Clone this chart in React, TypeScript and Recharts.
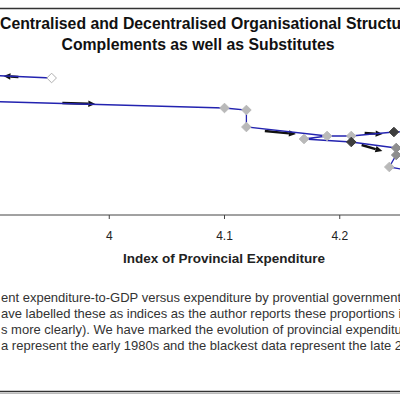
import { ReferenceLine, Scatter, ScatterChart, XAxis, YAxis } from "recharts"

// x: index of provincial expenditure, y: index of central expenditure
const xTicks = [3.9, 4, 4.1, 4.2]

// connecting lines (drawn in data order; some run off the visible crop)
const pathA_x = [3.95, 3.85]
const pathA_y = [3.9425, 3.955]
const pathB_x = [3.85, 4.1, 4.119, 4.119, 4.189, 4.21, 4.247, 4.3]
const pathB_y = [3.8875, 3.8675, 3.8625, 3.82, 3.7975, 3.7975, 3.8075, 3.81]
const pathC_x = [4.189, 4.169, 4.21, 4.249, 4.3]
const pathC_y = [3.7975, 3.79, 3.7825, 3.7675, 3.765]
const pathD_x = [4.3, 4.249, 4.243, 4.3]
const pathD_y = [3.755, 3.75, 3.72, 3.69]

// observations by era (lighter = early 1980s, darker = late 2000s)
const startX = [3.95]
const startY = [3.9425]
const earlyX = [4.1, 4.119, 4.119, 4.169, 4.189, 4.21, 4.243]
const earlyY = [3.8675, 3.8625, 3.82, 3.79, 3.7975, 3.7975, 3.72]
const middleX = [4.249, 4.249]
const middleY = [3.7675, 3.75]
const lateX = [4.21, 4.247]
const lateY = [3.7825, 3.8075]

// direction arrows: [x1, y1, x2, y2]
const arrows = [
  [3.9212, 3.945, 3.9082, 3.9475],
  [3.9593, 3.88, 3.9879, 3.8775],
  [4.135, 3.81, 4.162, 3.8025],
  [4.2216, 3.805, 4.2372, 3.8025],
  [4.219, 3.775, 4.237, 3.76],
]

const captionLines = [
  "ent expenditure-to-GDP versus expenditure by provential governments",
  "ave labelled these as indices as the author reports these proportions in",
  "s more clearly). We have marked the evolution of provincial expenditure",
  "a represent the early 1980s and the blackest data represent the late 2000s",
]

const zip = (xs: number[], ys: number[]) => xs.map((x, i) => ({ x, y: ys[i] }))

const lineColor = "#2323b0"
const font = "'Liberation Sans', Arial, sans-serif"

function noDot() {
  return <g />
}

function diamond(fill: string, stroke: string) {
  return (props: any) => {
    const { cx, cy } = props
    const r = 4.8
    return (
      <polygon
        points={`${cx},${cy - r} ${cx + r},${cy} ${cx},${cy + r} ${cx - r},${cy}`}
        fill={fill}
        stroke={stroke}
        strokeWidth={1}
      />
    )
  }
}

function Arrow(props: any) {
  const { x1, y1, x2, y2 } = props
  const ang = Math.atan2(y2 - y1, x2 - x1)
  const len = 7
  const w = 3.2
  const bx = x2 - len * Math.cos(ang)
  const by = y2 - len * Math.sin(ang)
  const px = -Math.sin(ang) * w
  const py = Math.cos(ang) * w
  return (
    <g>
      <line x1={x1} y1={y1} x2={bx} y2={by} stroke="#111" strokeWidth={2.4} />
      <polygon
        points={`${x2},${y2} ${bx + px},${by + py} ${bx - px},${by - py}`}
        fill="#111"
      />
    </g>
  )
}

const paths = [
  zip(pathA_x, pathA_y),
  zip(pathB_x, pathB_y),
  zip(pathC_x, pathC_y),
  zip(pathD_x, pathD_y),
]

export default function App() {
  return (
    <div
      style={{
        position: "fixed",
        left: 0,
        top: 0,
        width: 400,
        height: 400,
        overflow: "hidden",
        background: "#fff",
        fontFamily: font,
      }}
    >
      <div style={{ position: "absolute", left: -6, top: 0 }}>
        <ScatterChart
          width={461}
          height={245}
          margin={{ top: 55, right: 0, bottom: 0, left: 0 }}
        >
          <XAxis
            type="number"
            dataKey="x"
            domain={[3.9, 4.3]}
            ticks={xTicks}
            allowDataOverflow
            stroke="#444"
            tickSize={4}
            tickMargin={12}
            tick={{ fill: "#222", fontSize: 12, fontFamily: font }}
            height={30}
          />
          <YAxis type="number" dataKey="y" domain={[3.6, 4.0]} hide allowDataOverflow />
          {paths.map((d, i) => (
            <Scatter
              key={`path-${i}`}
              data={d}
              line={{ stroke: lineColor, strokeWidth: 1.3 }}
              shape={noDot}
              isAnimationActive={false}
            />
          ))}
          {arrows.map((a, i) => (
            <ReferenceLine
              key={`arrow-${i}`}
              segment={[
                { x: a[0], y: a[1] },
                { x: a[2], y: a[3] },
              ]}
              ifOverflow="visible"
              shape={Arrow}
            />
          ))}
          <Scatter data={zip(startX, startY)} shape={diamond("#fff", "#b0b0b0")} isAnimationActive={false} />
          <Scatter data={zip(earlyX, earlyY)} shape={diamond("#b9b9b9", "#b9b9b9")} isAnimationActive={false} />
          <Scatter data={zip(middleX, middleY)} shape={diamond("#8e8e8e", "#8e8e8e")} isAnimationActive={false} />
          <Scatter data={zip(lateX, lateY)} shape={diamond("#3e3e3e", "#3e3e3e")} isAnimationActive={false} />
        </ScatterChart>
      </div>
      <svg
        width={400}
        height={400}
        style={{ position: "absolute", left: 0, top: 0, pointerEvents: "none" }}
        fontFamily={font}
      >
        <line x1={0} x2={400} y1={8.5} y2={8.5} stroke="#333" strokeWidth={1.5} />
        <text x={0} y={29} fontSize={15.8} fontWeight="bold" fill="#111">
          Centralised and Decentralised Organisational Structures:
        </text>
        <text x={198} y={50} fontSize={15.8} fontWeight="bold" fill="#111" textAnchor="middle">
          Complements as well as Substitutes
        </text>
        <text x={224} y={263} fontSize={13.5} fontWeight="bold" fill="#222" textAnchor="middle">
          Index of Provincial Expenditure
        </text>
        {captionLines.map((t, i) => (
          <text key={i} x={1} y={302 + i * 16} fontSize={13} fill="#333">
            {t}
          </text>
        ))}
        <line x1={0} x2={400} y1={391.5} y2={391.5} stroke="#333" strokeWidth={1.5} />
        <line x1={0} x2={400} y1={393.5} y2={393.5} stroke="#bbb" strokeWidth={1} />
      </svg>
    </div>
  )
}
